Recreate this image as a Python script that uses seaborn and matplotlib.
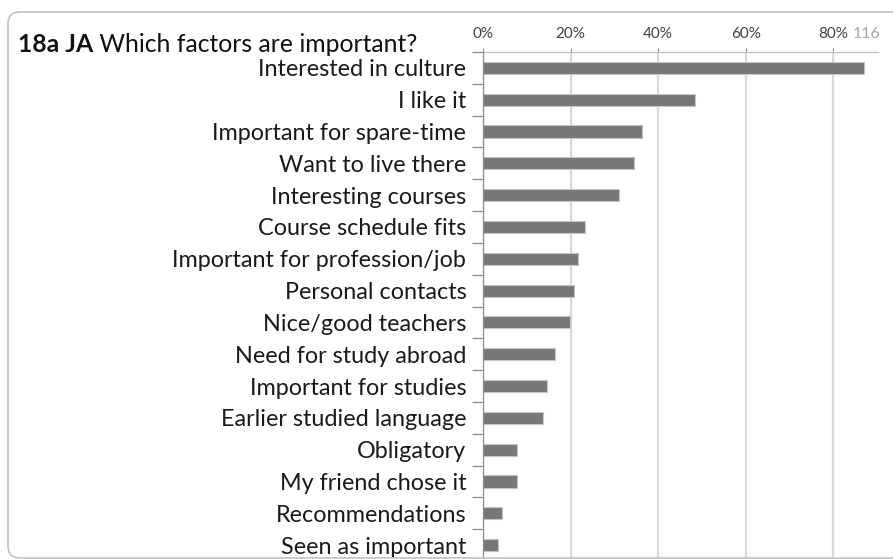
import matplotlib
matplotlib.use("Agg")
import matplotlib.pyplot as plt
import matplotlib.patches as mpatches
from matplotlib.transforms import IdentityTransform
from matplotlib.ticker import FixedLocator, PercentFormatter
import seaborn as sns
import pandas as pd

# Survey answers: share of respondents naming each factor (n = 116)
factors = [
    "Interested in culture",
    "I like it",
    "Important for spare-time",
    "Want to live there",
    "Interesting courses",
    "Course schedule fits",
    "Important for profession/job",
    "Personal contacts",
    "Nice/good teachers",
    "Need for study abroad",
    "Important for studies",
    "Earlier studied language",
    "Obligatory",
    "My friend chose it",
    "Recommendations",
    "Seen as important",
]
shares = [0.871, 0.483, 0.362, 0.345, 0.310, 0.233, 0.216, 0.207,
          0.198, 0.164, 0.147, 0.138, 0.078, 0.078, 0.043, 0.034]
x_ticks = [0.0, 0.2, 0.4, 0.6, 0.8]
respondents = "116"

df = pd.DataFrame({"factor": factors, "share": shares})

sns.set_theme(style="white")
plt.rcParams["font.family"] = ["Lato", "DejaVu Sans"]

W, H = 893, 559
fig = plt.figure(figsize=(W / 100, H / 100), dpi=100)
fig.patch.set_facecolor("white")

# rounded frame around the whole chart
frame = mpatches.FancyBboxPatch(
    (8, 1), 960, 546,
    boxstyle="round,pad=0,rounding_size=12",
    transform=IdentityTransform(),
    facecolor="none", edgecolor="#c6c6c6", linewidth=1.3,
)
fig.add_artist(frame)

left, right = 483, 878
top, bottom = 52, 561
ax = fig.add_axes([left / W, (H - bottom) / H, (right - left) / W, (bottom - top) / H])
ax.set_facecolor("none")

sns.barplot(data=df, x="share", y="factor", orient="h", color="#777777",
            width=0.38, saturation=1, edgecolor="#c4c4c4", linewidth=0.8,
            ax=ax, zorder=3)

ax.set_xlim(0, 0.902)
ax.set_ylim(len(factors) - 0.5, -0.5)
ax.set_xlabel("")
ax.set_ylabel("")

# percentage axis along the top
ax.xaxis.tick_top()
ax.xaxis.set_major_locator(FixedLocator(x_ticks))
ax.xaxis.set_major_formatter(PercentFormatter(1.0, decimals=0))
ax.tick_params(axis="x", which="major", direction="out", length=3, width=0.8,
               color="#8c8c8c", labelsize=11, labelcolor="#404040", pad=5)
ax.grid(axis="x", color="#d9d9d9", linewidth=1.6, zorder=0)
ax.grid(axis="y", visible=False)

# category labels with small separators between rows
ax.set_yticks(range(len(factors)))
ax.set_yticklabels(factors)
ax.set_yticks([i - 0.5 for i in range(len(factors) + 1)], minor=True)
ax.tick_params(axis="y", which="major", length=0, labelsize=16.8,
               labelcolor="#1a1a1a", pad=12)
ax.tick_params(axis="y", which="minor", direction="out", length=8, width=0.9,
               color="#8c8c8c", left=True)

for side in ("right", "bottom"):
    ax.spines[side].set_visible(False)
ax.spines["left"].set_color("#8c8c8c")
ax.spines["left"].set_linewidth(0.9)
ax.spines["top"].set_color("#bfbfbf")
ax.spines["top"].set_linewidth(0.9)
ax.spines["left"].set_zorder(4)

# title: bold code followed by the question
t1 = fig.text(18 / W, 1 - 52 / H, "18a JA", fontsize=17.8, fontweight="bold",
              color="#111111", va="baseline", ha="left")
ax.annotate(" Which factors are important?", xy=(1, 0), xycoords=t1,
            fontsize=17.8, color="#111111", va="bottom", ha="left",
            annotation_clip=False)

fig.text(853 / W, 1 - 34 / H, respondents, fontsize=11.5, color="#a6a6a6",
         va="center", ha="left")

fig.savefig("out.png", dpi=100, facecolor="white")
